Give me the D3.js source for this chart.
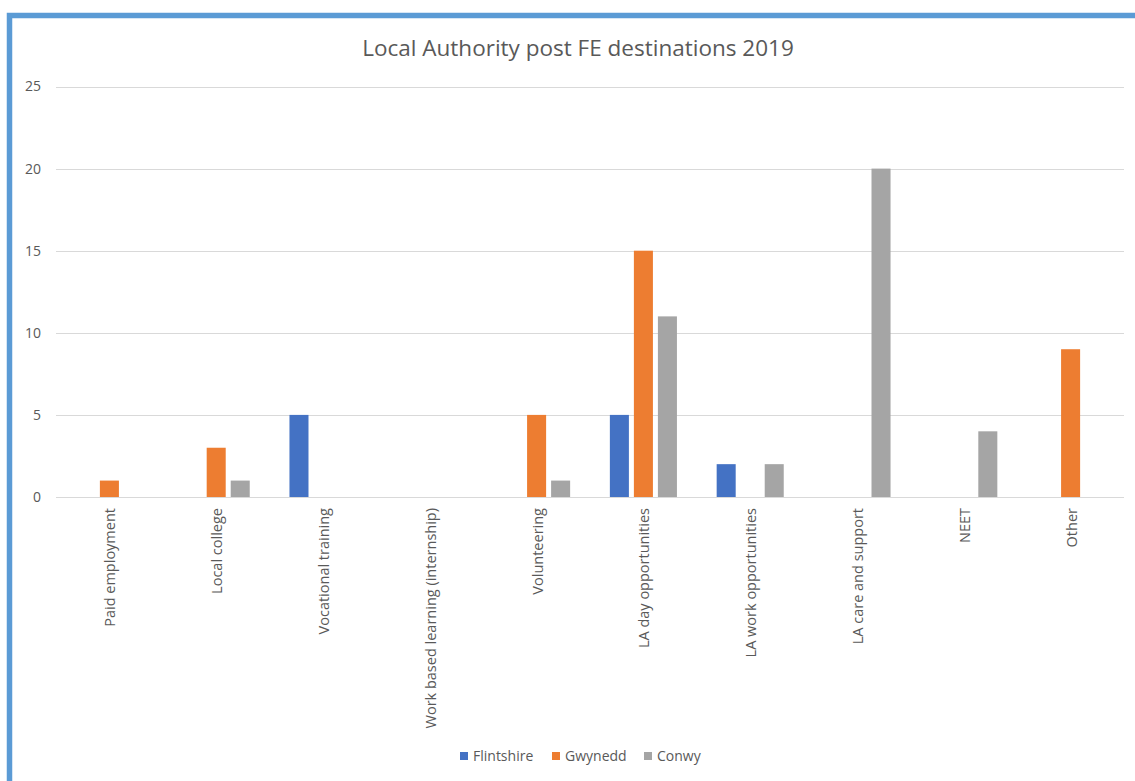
<!DOCTYPE html>
<html>
<head>
<meta charset="utf-8">
<script src="https://cdn.jsdelivr.net/npm/d3@7"></script>
<style>
  html, body { margin: 0; padding: 0; background: #ffffff; }
  svg { display: block; font-family: "Open Sans", "Noto Sans", sans-serif; }
</style>
</head>
<body>
<svg id="chart" width="1135" height="781"></svg>
<script>
// Destinations of leavers, by local authority
const categories = [
  "Paid employment",
  "Local college",
  "Vocational training",
  "Work based learning (internship)",
  "Volunteering",
  "LA day opportunities",
  "LA work opportunities",
  "LA care and support",
  "NEET",
  "Other"
];
const seriesNames = ["Flintshire", "Gwynedd", "Conwy"];
const flintshire = [0, 0, 5, 0, 0, 5, 2, 0, 0, 0];
const gwynedd    = [1, 3, 0, 0, 5, 15, 0, 0, 0, 9];
const conwy      = [0, 1, 0, 0, 1, 11, 2, 20, 4, 0];
const yTicks = [0, 5, 10, 15, 20, 25];
const colors = ["#4472c4", "#ed7d31", "#a5a5a5"];

const seriesValues = [flintshire, gwynedd, conwy];

const svg = d3.select("#chart");
const W = 1135, H = 781;
const textColor = "#595959";

// frame
svg.append("rect")
  .attr("x", 9.5).attr("y", 15.5)
  .attr("width", W + 20).attr("height", H + 20)
  .attr("fill", "#ffffff")
  .attr("stroke", "#5b9bd5").attr("stroke-width", 5.5);

const plot = { left: 56, right: 1124, top: 86.5, bottom: 497 };

const x0 = d3.scaleBand()
  .domain(categories)
  .range([plot.left, plot.right])
  .paddingInner(0).paddingOuter(0);

const groupW = x0.bandwidth() * 0.628;
const x1 = d3.scaleBand()
  .domain(seriesNames)
  .range([-groupW / 2, groupW / 2])
  .paddingInner(0.208).paddingOuter(0);

const y = d3.scaleLinear().domain([0, 25]).range([plot.bottom, plot.top]);

// gridlines
svg.append("g")
  .selectAll("line")
  .data(yTicks)
  .join("line")
  .attr("x1", plot.left).attr("x2", plot.right)
  .attr("y1", d => Math.round(y(d)) + 0.5)
  .attr("y2", d => Math.round(y(d)) + 0.5)
  .attr("stroke", "#d9d9d9").attr("stroke-width", 1);

// y axis labels
const yAxis = d3.axisLeft(y).tickValues(yTicks).tickSize(0).tickPadding(0);
const gy = svg.append("g")
  .attr("transform", `translate(${plot.left - 15},0)`)
  .call(yAxis);
gy.select(".domain").remove();
gy.selectAll("text")
  .attr("fill", textColor)
  .style("font-size", "14px")
  .style("font-family", "'Open Sans', sans-serif");

// bars
const groups = svg.append("g")
  .selectAll("g")
  .data(categories)
  .join("g")
  .attr("transform", d => `translate(${x0(d) + x0.bandwidth() / 2},0)`);

groups.selectAll("rect")
  .data((c, i) => seriesNames.map((s, k) => ({ s, k, v: seriesValues[k][i] })))
  .join("rect")
  .filter(d => d.v > 0)
  .attr("x", d => x1(d.s))
  .attr("width", x1.bandwidth())
  .attr("y", d => y(d.v))
  .attr("height", d => y(0) - y(d.v))
  .attr("fill", d => colors[d.k]);

// x axis labels (rotated)
const xAxis = d3.axisBottom(x0).tickSize(0).tickPadding(0);
const gx = svg.append("g")
  .attr("transform", `translate(0,${plot.bottom})`)
  .call(xAxis);
gx.select(".domain").remove();
gx.selectAll("text")
  .attr("fill", textColor)
  .style("font-size", "14.5px")
  .style("font-family", "'Open Sans', sans-serif")
  .attr("text-anchor", "end")
  .attr("dy", "0.35em")
  .attr("transform", "translate(1,11) rotate(-90)")
  .attr("x", 0).attr("y", 0);

// title
svg.append("text")
  .attr("x", 578).attr("y", 56)
  .attr("text-anchor", "middle")
  .attr("fill", textColor)
  .style("font-size", "22.5px")
  .text("Local Authority post FE destinations 2019");

// legend
const legendItems = [
  { name: "Flintshire", x: 460 },
  { name: "Gwynedd", x: 552 },
  { name: "Conwy", x: 644 }
];
const lg = svg.append("g")
  .selectAll("g")
  .data(legendItems)
  .join("g")
  .attr("transform", d => `translate(${d.x},756)`);
lg.append("rect")
  .attr("x", 0).attr("y", -4)
  .attr("width", 8).attr("height", 8)
  .attr("fill", (d, i) => colors[i]);
lg.append("text")
  .attr("x", 13).attr("y", 0)
  .attr("dy", "0.35em")
  .attr("fill", textColor)
  .style("font-size", "14px")
  .text(d => d.name);
</script>
</body>
</html>
